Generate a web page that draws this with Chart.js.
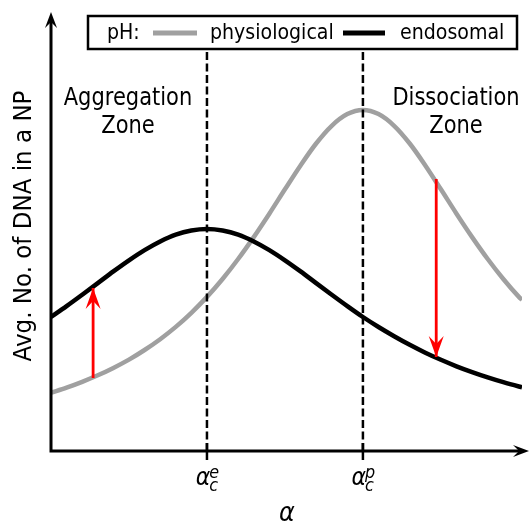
<!DOCTYPE html>
<html><head><meta charset="utf-8">
<script src="https://cdn.jsdelivr.net/npm/chart.js@4"></script>
<style>html,body{margin:0;padding:0;background:#fff;}</style>
</head><body>
<canvas id="c" width="529" height="523"></canvas>
<script>
// ---- data ----
const alphaValues = [0,0.1,0.2,0.3,0.4,0.5,0.6,0.7,0.8,0.9,1.0,1.1,1.2,1.3,1.4,1.5,1.6,1.7,1.8,1.9,2.0,2.1,2.2,2.3,2.4,2.5,2.6,2.7,2.8,2.9,3.0,3.02];
const physiological = [0.583,0.634,0.692,0.757,0.831,0.914,1.010,1.118,1.241,1.382,1.541,1.720,1.920,2.139,2.373,2.617,2.856,3.075,3.252,3.369,3.410,3.369,3.252,3.075,2.856,2.617,2.373,2.139,1.920,1.720,1.541,1.510];
const endosomal = [1.340,1.449,1.563,1.679,1.796,1.907,2.009,2.096,2.164,2.205,2.220,2.205,2.164,2.096,2.009,1.907,1.796,1.679,1.563,1.449,1.340,1.240,1.148,1.062,0.983,0.912,0.847,0.789,0.736,0.688,0.645,0.637];
const criticalAlpha = [1, 2];
const criticalLabels = [['α','c','e'], ['α','c','p']];
const aggregationArrow = [{x:0.27, y:0.73}, {x:0.27, y:1.63}];
const dissociationArrow = [{x:2.47, y:2.72}, {x:2.47, y:0.94}];
const dashedTop = 4.03;
const legendTitle = 'pH:';
const seriesNames = ['physiological', 'endosomal'];
const zoneLabels = [['Aggregation','Zone'], ['Dissociation','Zone']];
const yTitle = 'Avg. No. of DNA in a NP';
const xTitle = 'α';

const GRAY = '#a0a0a0';
const FONT = "'DejaVu Sans', 'Liberation Sans', sans-serif";

function pts(xs, ys){ return xs.map((x,i)=>({x:x, y:ys[i]})); }

function arrowHead(ctx, x, y, ang, L, W, color){
  ctx.save();
  ctx.translate(x,y); ctx.rotate(ang);
  ctx.fillStyle = color;
  ctx.beginPath();
  ctx.moveTo(0,0); ctx.lineTo(-L,-W); ctx.lineTo(-L*0.62,0); ctx.lineTo(-L,W);
  ctx.closePath(); ctx.fill();
  ctx.restore();
}

function tallText(ctx, s, x, y, sy){
  ctx.save(); ctx.translate(x,y); ctx.scale(1, sy); ctx.fillText(s, 0, 0); ctx.restore();
}

const decor = {
  id:'decor',
  afterDatasetsDraw(chart){
    const ctx = chart.ctx;
    const xs = chart.scales.x, ys = chart.scales.y;
    [2,3].forEach(i=>{
      const m = chart.getDatasetMeta(i).data;
      const a = m[0], b = m[1];
      const ang = Math.atan2(b.y-a.y, b.x-a.x);
      arrowHead(ctx, b.x, b.y, ang, 21, 7.5, '#ff0000');
    });
    const x0 = xs.getPixelForValue(0), y0 = ys.getPixelForValue(0);
    ctx.save();
    ctx.strokeStyle = '#000'; ctx.lineWidth = 3; ctx.lineCap='butt';
    ctx.beginPath();
    ctx.moveTo(x0, y0+1.5); ctx.lineTo(x0, 22);
    ctx.moveTo(x0-1.5, y0); ctx.lineTo(520, y0);
    ctx.stroke();
    arrowHead(ctx, x0, 12, -Math.PI/2, 16, 6, '#000');
    arrowHead(ctx, 529, y0, 0, 16, 6, '#000');
    ctx.lineWidth = 2.5;
    criticalAlpha.forEach((v,i)=>{
      const px = xs.getPixelForValue(v);
      ctx.beginPath(); ctx.moveTo(px, y0-8); ctx.lineTo(px, y0+9); ctx.stroke();
      const [b, sub, sup] = criticalLabels[i];
      ctx.fillStyle='#000'; ctx.textBaseline='alphabetic'; ctx.textAlign='left';
      ctx.font = 'italic 22px ' + FONT;
      const wb = ctx.measureText(b).width;
      ctx.font = 'italic 16px ' + FONT;
      const ws = Math.max(ctx.measureText(sub).width, ctx.measureText(sup).width);
      const left = px - (wb + ws)/2 + 1;
      ctx.font = 'italic 22px ' + FONT;
      tallText(ctx, b, left, 485, 1.1);
      ctx.font = 'italic 16px ' + FONT;
      tallText(ctx, sub, left + wb - 1, 491, 1.1);
      tallText(ctx, sup, left + wb - 1, 478, 1.1);
    });
    ctx.font = 'italic 24px ' + FONT; ctx.textAlign='center'; ctx.textBaseline='alphabetic';
    tallText(ctx, xTitle, 287, 521, 1.1);
    ctx.save();
    ctx.translate(25, 226); ctx.rotate(-Math.PI/2);
    ctx.font = '23px ' + FONT; ctx.textAlign='center'; ctx.textBaseline='middle';
    ctx.scale(1, 1.08);
    ctx.fillText(yTitle, 0, 0);
    ctx.restore();
    ctx.font = '21px ' + FONT; ctx.textAlign='center'; ctx.textBaseline='alphabetic';
    tallText(ctx, zoneLabels[0][0], 128, 105, 1.15);
    tallText(ctx, zoneLabels[0][1], 128, 133, 1.15);
    tallText(ctx, zoneLabels[1][0], 456, 105, 1.15);
    tallText(ctx, zoneLabels[1][1], 456, 133, 1.15);
    ctx.fillStyle='#fff'; ctx.fillRect(88,16,429,33);
    ctx.strokeStyle='#000'; ctx.lineWidth=2.5; ctx.strokeRect(88,16,429,33);
    ctx.fillStyle='#000'; ctx.font='19px ' + FONT; ctx.textAlign='left'; ctx.textBaseline='middle';
    tallText(ctx, legendTitle, 107, 33, 1.12);
    ctx.lineWidth=5;
    ctx.strokeStyle=GRAY; ctx.beginPath(); ctx.moveTo(153,33); ctx.lineTo(197,33); ctx.stroke();
    tallText(ctx, seriesNames[0], 210, 33, 1.12);
    ctx.strokeStyle='#000'; ctx.beginPath(); ctx.moveTo(343,33); ctx.lineTo(385,33); ctx.stroke();
    tallText(ctx, seriesNames[1], 400, 33, 1.12);
    ctx.restore();
  }
};

new Chart(document.getElementById('c'), {
  type:'line',
  data:{ datasets:[
    {label:seriesNames[0], data:pts(alphaValues, physiological), borderColor:GRAY, borderWidth:4.5, pointRadius:0, cubicInterpolationMode:'monotone', fill:false, order:5},
    {label:seriesNames[1], data:pts(alphaValues, endosomal), borderColor:'#000', borderWidth:4.5, pointRadius:0, cubicInterpolationMode:'monotone', fill:false, order:4},
    {label:'agg', data:aggregationArrow, borderColor:'#ff0000', borderWidth:2.8, pointRadius:0, order:1},
    {label:'dis', data:dissociationArrow, borderColor:'#ff0000', borderWidth:2.8, pointRadius:0, order:1},
    {label:'ce', data:[{x:criticalAlpha[0],y:0},{x:criticalAlpha[0],y:dashedTop}], borderColor:'#000', borderWidth:2.5, borderDash:[8,3.5], pointRadius:0, order:3},
    {label:'cp', data:[{x:criticalAlpha[1],y:0},{x:criticalAlpha[1],y:dashedTop}], borderColor:'#000', borderWidth:2.5, borderDash:[8,3.5], pointRadius:0, order:3}
  ]},
  plugins:[decor],
  options:{
    responsive:false, animation:false, devicePixelRatio:1,
    layout:{padding:{left:51, right:7, top:13, bottom:72}},
    plugins:{legend:{display:false}, tooltip:{enabled:false}},
    scales:{
      x:{type:'linear', min:0, max:3.02, display:false},
      y:{type:'linear', min:0, max:4.38, display:false}
    }
  }
});
</script>
</body></html>
